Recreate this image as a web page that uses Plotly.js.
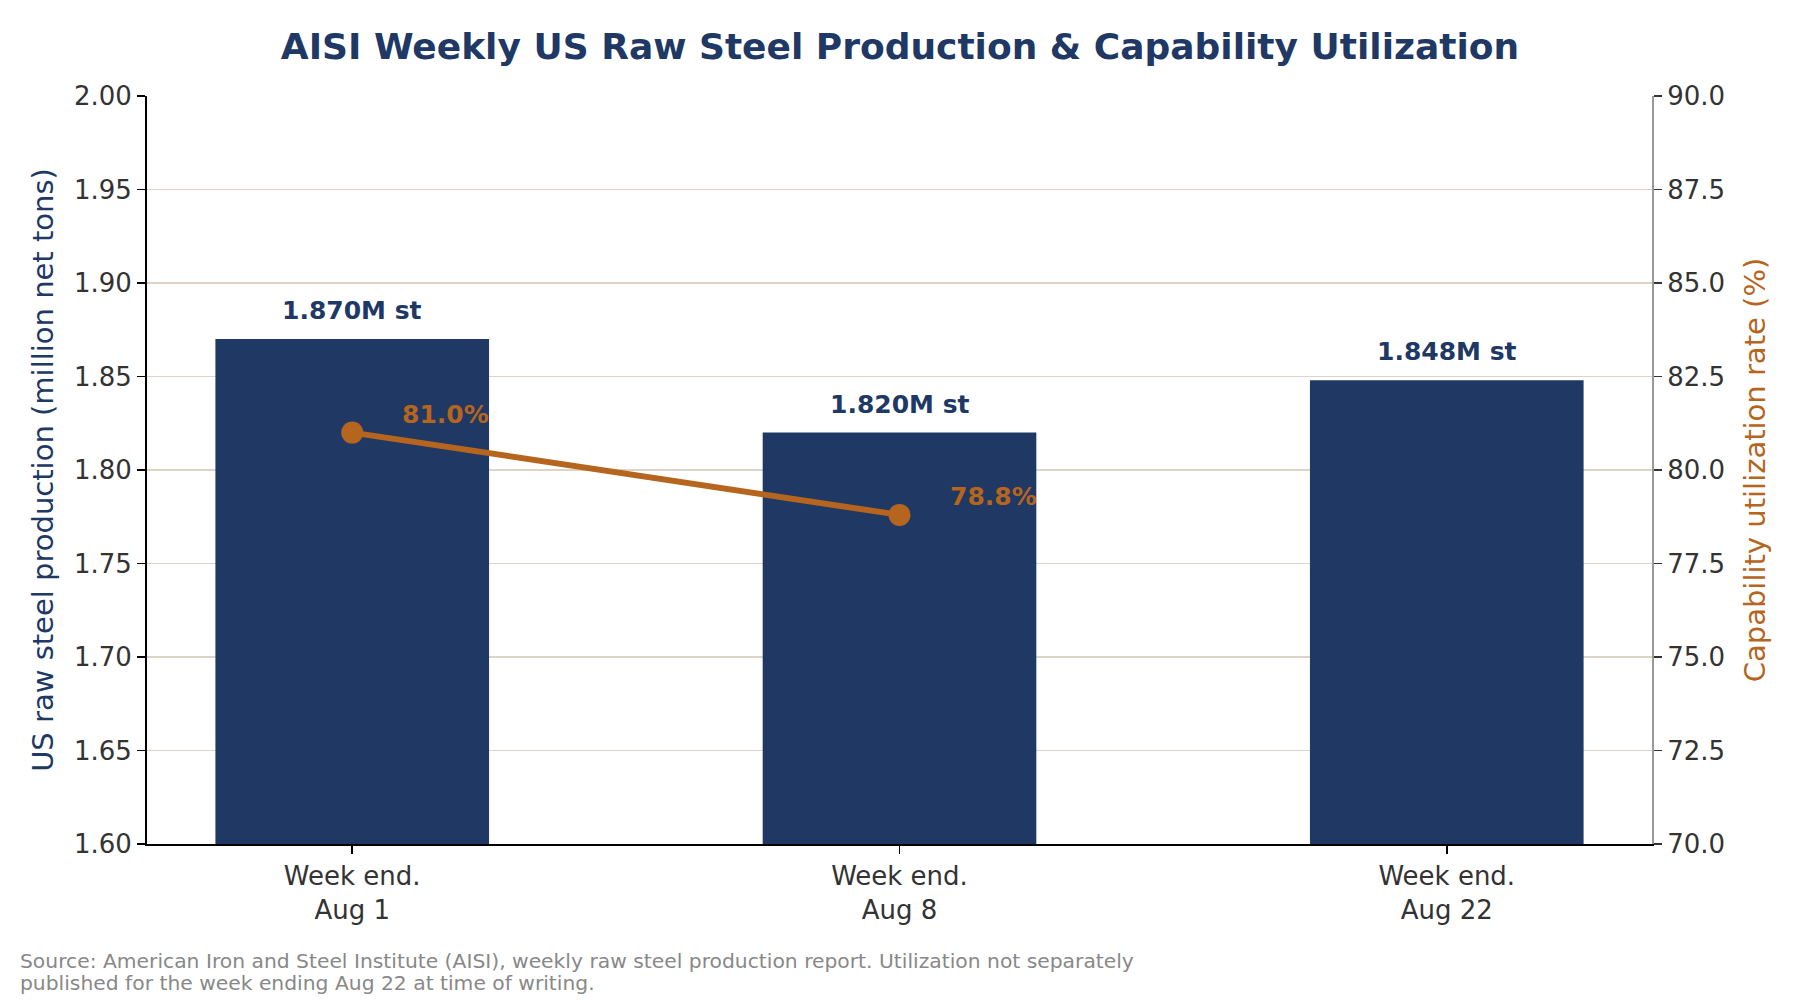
<!DOCTYPE html>
<html>
<head>
<meta charset="utf-8">
<script src="https://cdn.plot.ly/plotly-3.0.1.min.js"></script>
<style>
  html, body { margin:0; padding:0; background:#fff; }
  #chart { width:1800px; height:1000px; }
</style>
</head>
<body>
<div id="chart"></div>
<script>
  // --------- Data ---------
  const weeks       = ['Week end.<br>Aug 1', 'Week end.<br>Aug 8', 'Week end.<br>Aug 22'];
  const production  = [1.870, 1.820, 1.848];       // million net tons
  const prodLabels  = ['1.870M st', '1.820M st', '1.848M st'];
  const utilWeeks   = [weeks[0], weeks[1]];        // Aug 22 utilization not published
  const utilization = [81.0, 78.8];                // %
  const utilLabels  = ['81.0%', '78.8%'];
  const sourceLines = [
    'Source: American Iron and Steel Institute (AISI), weekly raw steel production report. Utilization not separately',
    'published for the week ending Aug 22 at time of writing.'
  ];

  const NAVY   = '#203864';
  const ORANGE = '#b5651d';
  const GRID   = '#ddd3c6';
  const FONT   = 'DejaVu Sans, Verdana, sans-serif';

  const bars = {
    type:'bar', x:weeks, y:production, width:0.5,
    marker:{color:NAVY, line:{width:0}},
    hoverinfo:'skip', showlegend:false
  };
  const line = {
    type:'scatter', mode:'lines+markers', x:utilWeeks, y:utilization, yaxis:'y2',
    line:{color:ORANGE, width:6}, marker:{color:ORANGE, size:22},
    hoverinfo:'skip', showlegend:false
  };

  // labels over bars and next to the points
  const annotations = [];
  weeks.forEach((w,i)=>{
    annotations.push({
      x:w, y:production[i], xref:'x', yref:'y', text:'<b>'+prodLabels[i]+'</b>',
      showarrow:false, xanchor:'center', yanchor:'bottom', yshift:12,
      font:{family:FONT, size:25, color:NAVY}
    });
  });
  utilWeeks.forEach((w,i)=>{
    annotations.push({
      x:w, y:utilization[i], xref:'x', yref:'y2', text:'<b>'+utilLabels[i]+'</b>',
      showarrow:false, xanchor:'left', yanchor:'middle', xshift:48, yshift:18,
      font:{family:FONT, size:25, color:ORANGE}
    });
  });
  // source note, one annotation per line for tight spacing
  const srcY = [-0.1564, -0.1858];
  sourceLines.forEach((t,i)=>{
    annotations.push({
      xref:'paper', yref:'paper', x:-0.0857, y:srcY[i], xanchor:'left', yanchor:'middle', align:'left',
      showarrow:false, text:t,
      font:{family:FONT, size:20.3, color:'#888888'}
    });
  });

  const layout = {
    width:1800, height:1000,
    margin:{l:147, r:148, t:96, b:156},
    paper_bgcolor:'#ffffff', plot_bgcolor:'#ffffff',
    font:{family:FONT, size:26, color:'#333333'},
    title:{
      text:'<b>AISI Weekly US Raw Steel Production & Capability Utilization</b>',
      x:0.5, xanchor:'center', y:0.954, yanchor:'middle', yref:'container',
      font:{family:FONT, size:36, color:NAVY}
    },
    xaxis:{
      type:'category', range:[-0.375, 2.375],
      showline:true, linecolor:'#000000', linewidth:2,
      ticks:'outside', ticklen:8, tickwidth:1.5, tickcolor:'#000000',
      showgrid:false, zeroline:false,
      tickfont:{family:FONT, size:26, color:'#333333'}
    },
    yaxis:{
      range:[1.6, 2.0], tick0:1.6, dtick:0.05, tickformat:'.2f',
      showline:true, linecolor:'#000000', linewidth:2,
      ticks:'outside', ticklen:8, tickwidth:1.5, tickcolor:'#000000',
      showgrid:true, gridcolor:GRID, gridwidth:1.8, zeroline:false,
      tickfont:{family:FONT, size:26, color:'#333333'},
      title:{text:'US raw steel production (million net tons)', standoff:12,
             font:{family:FONT, size:29, color:NAVY}}
    },
    yaxis2:{
      overlaying:'y', side:'right',
      range:[70, 90], tick0:70, dtick:2.5, tickformat:'.1f',
      showline:true, linecolor:'#999999', linewidth:2,
      ticks:'outside', ticklen:8, tickwidth:1.5, tickcolor:'#333333',
      showgrid:false, zeroline:false,
      tickfont:{family:FONT, size:26, color:'#333333'},
      title:{text:'Capability utilization rate (%)', standoff:21,
             font:{family:FONT, size:29, color:ORANGE}}
    },
    annotations:annotations,
    bargap:0.5
  };

  Plotly.newPlot('chart', [bars, line], layout, {displayModeBar:false, staticPlot:true});
</script>
</body>
</html>
